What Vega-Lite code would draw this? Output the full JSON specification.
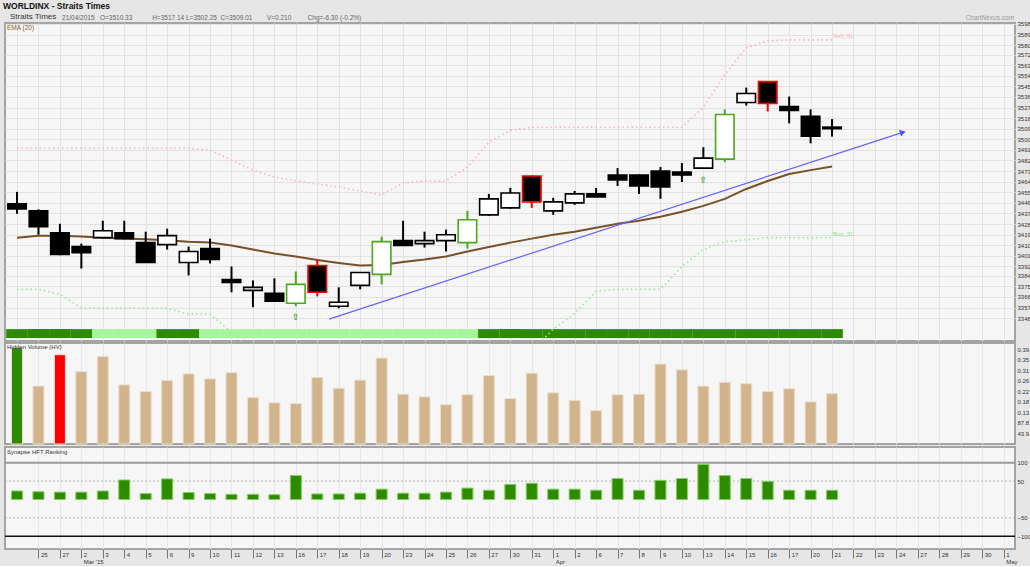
{
  "$schema": "https://vega.github.io/schema/vega-lite/v6.json",
  "background": "#e6e6e6",
  "padding": {"left": 3, "right": 0, "top": 1, "bottom": 0},
  "title": {
    "text": "WORLDINX - Straits Times",
    "anchor": "start",
    "font": "Liberation Sans",
    "fontSize": 8.5,
    "fontWeight": "bold",
    "color": "#111111",
    "offset": 2
  },
  "datasets": {
    "d": [
      {"i":0,"o":3445.1,"h":3455.3,"l":3436.7,"c":3440.9,"s":"none","t":"strong","v":402,"vs":"buy","rk":23,"em":3416.4,"rs":3492.4,"sp":3372.5},
      {"i":1,"o":3439.2,"h":3440.5,"l":3418.9,"c":3425.7,"s":"none","t":"strong","v":242,"vs":"none","rk":21,"em":3418.1,"rs":3492.4,"sp":3372.5},
      {"i":2,"o":3420.6,"h":3428.2,"l":3401.5,"c":3402.1,"s":"none","t":"strong","v":373,"vs":"sell","rk":20,"em":3418.1,"rs":3492.4,"sp":3368.3},
      {"i":3,"o":3408.8,"h":3411.3,"l":3390.2,"c":3403.7,"s":"none","t":"strong","v":302,"vs":"none","rk":20,"em":3417.3,"rs":3492.4,"sp":3356.4},
      {"i":4,"o":3416.4,"h":3430.8,"l":3416.0,"c":3422.3,"s":"none","t":"weak","v":366,"vs":"none","rk":23,"em":3416.4,"rs":3492.4,"sp":3356.4},
      {"i":5,"o":3420.6,"h":3430.8,"l":3415.0,"c":3415.6,"s":"none","t":"weak","v":247,"vs":"none","rk":53,"em":3415.6,"rs":3492.4,"sp":3356.4},
      {"i":6,"o":3412.2,"h":3421.5,"l":3395.0,"c":3395.3,"s":"none","t":"weak","v":219,"vs":"none","rk":16,"em":3415.1,"rs":3492.4,"sp":3356.4},
      {"i":7,"o":3410.5,"h":3424.0,"l":3406.3,"c":3418.1,"s":"none","t":"strong","v":265,"vs":"none","rk":56,"em":3414.3,"rs":3492.4,"sp":3356.4},
      {"i":8,"o":3395.3,"h":3408.8,"l":3384.3,"c":3404.6,"s":"none","t":"strong","v":293,"vs":"none","rk":19,"em":3413.0,"rs":3492.4,"sp":3351.4},
      {"i":9,"o":3407.1,"h":3415.6,"l":3394.5,"c":3397.8,"s":"none","t":"weak","v":272,"vs":"none","rk":16,"em":3412.2,"rs":3490.7,"sp":3351.4},
      {"i":10,"o":3380.9,"h":3391.9,"l":3370.0,"c":3378.4,"s":"none","t":"weak","v":298,"vs":"none","rk":14,"em":3409.7,"rs":3482.3,"sp":3336.0},
      {"i":11,"o":3371.6,"h":3380.1,"l":3357.3,"c":3374.2,"s":"none","t":"weak","v":194,"vs":"none","rk":14,"em":3406.3,"rs":3473.8,"sp":3320},
      {"i":12,"o":3369.1,"h":3381.8,"l":3362.0,"c":3362.4,"s":"none","t":"weak","v":172,"vs":"none","rk":13,"em":3402.9,"rs":3467.9,"sp":3320},
      {"i":13,"o":3360.7,"h":3387.7,"l":3358.1,"c":3376.7,"s":"buy","t":"weak","v":169,"vs":"none","rk":65,"em":3400.4,"rs":3464.6,"sp":3320,"a":1},
      {"i":14,"o":3392.8,"h":3397.8,"l":3366.6,"c":3370.0,"s":"sell","t":"weak","v":278,"vs":"none","rk":15,"em":3397.4,"rs":3462.0,"sp":3320},
      {"i":15,"o":3358.1,"h":3374.2,"l":3356.4,"c":3361.5,"s":"none","t":"weak","v":233,"vs":"none","rk":15,"em":3394.9,"rs":3459.5,"sp":3320},
      {"i":16,"o":3375.9,"h":3387.0,"l":3372.5,"c":3386.8,"s":"none","t":"weak","v":267,"vs":"none","rk":17,"em":3392.8,"rs":3456.1,"sp":3320},
      {"i":17,"o":3385.2,"h":3417.3,"l":3376.7,"c":3413.0,"s":"buy","t":"weak","v":359,"vs":"none","rk":28,"em":3393.2,"rs":3452.7,"sp":3320},
      {"i":18,"o":3413.9,"h":3430.8,"l":3409.5,"c":3409.7,"s":"none","t":"weak","v":208,"vs":"none","rk":17,"em":3395.7,"rs":3462.9,"sp":3320},
      {"i":19,"o":3411.3,"h":3421.5,"l":3408.0,"c":3413.9,"s":"none","t":"weak","v":197,"vs":"none","rk":17,"em":3397.8,"rs":3464.6,"sp":3320},
      {"i":20,"o":3413.9,"h":3423.2,"l":3404.6,"c":3418.9,"s":"none","t":"weak","v":164,"vs":"none","rk":20,"em":3400.4,"rs":3464.6,"sp":3320},
      {"i":21,"o":3412.2,"h":3439.2,"l":3407.1,"c":3431.6,"s":"buy","t":"weak","v":206,"vs":"none","rk":31,"em":3404.6,"rs":3476.4,"sp":3320},
      {"i":22,"o":3435.8,"h":3453.6,"l":3435.0,"c":3449.4,"s":"none","t":"strong","v":286,"vs":"none","rk":25,"em":3408.4,"rs":3497.5,"sp":3320},
      {"i":23,"o":3441.7,"h":3458.6,"l":3440.9,"c":3454.4,"s":"none","t":"strong","v":190,"vs":"none","rk":41,"em":3412.2,"rs":3507.6,"sp":3320},
      {"i":24,"o":3468.8,"h":3469.2,"l":3441.7,"c":3446.8,"s":"sell","t":"strong","v":296,"vs":"none","rk":44,"em":3415.6,"rs":3510.2,"sp":3320},
      {"i":25,"o":3439.2,"h":3450.2,"l":3435.8,"c":3446.8,"s":"none","t":"strong","v":214,"vs":"none","rk":28,"em":3418.9,"rs":3510.2,"sp":3338.7},
      {"i":26,"o":3446.0,"h":3456.1,"l":3444.3,"c":3453.6,"s":"none","t":"strong","v":182,"vs":"none","rk":28,"em":3421.5,"rs":3510.2,"sp":3352.0},
      {"i":27,"o":3453.6,"h":3458.6,"l":3451.0,"c":3451.0,"s":"none","t":"strong","v":140,"vs":"none","rk":25,"em":3424.9,"rs":3510.2,"sp":3370.8},
      {"i":28,"o":3469.6,"h":3475.5,"l":3460.3,"c":3465.4,"s":"none","t":"strong","v":206,"vs":"none","rk":57,"em":3428.2,"rs":3510.2,"sp":3372.5},
      {"i":29,"o":3469.6,"h":3470.0,"l":3453.6,"c":3460.3,"s":"none","t":"strong","v":208,"vs":"none","rk":25,"em":3430.8,"rs":3510.2,"sp":3372.5},
      {"i":30,"o":3473.0,"h":3476.4,"l":3449.4,"c":3459.5,"s":"none","t":"strong","v":334,"vs":"none","rk":52,"em":3434.1,"rs":3510.2,"sp":3372.5},
      {"i":31,"o":3472.2,"h":3479.8,"l":3463.7,"c":3469.6,"s":"none","t":"strong","v":310,"vs":"none","rk":57,"em":3438.4,"rs":3510.2,"sp":3391.9},
      {"i":32,"o":3475.5,"h":3493.3,"l":3475.0,"c":3484.0,"s":"none","t":"strong","v":242,"vs":"none","rk":95,"em":3443.4,"rs":3527.1,"sp":3406.3,"a":1},
      {"i":33,"o":3483.1,"h":3525.4,"l":3480.6,"c":3521.1,"s":"buy","t":"strong","v":258,"vs":"none","rk":65,"em":3449.4,"rs":3554.9,"sp":3413.0},
      {"i":34,"o":3531.3,"h":3543.9,"l":3528.7,"c":3538.9,"s":"none","t":"strong","v":252,"vs":"none","rk":57,"em":3457.8,"rs":3577.7,"sp":3414.7},
      {"i":35,"o":3549.0,"h":3549.3,"l":3523.7,"c":3530.4,"s":"sell","t":"strong","v":219,"vs":"none","rk":49,"em":3464.6,"rs":3583.6,"sp":3416.4},
      {"i":36,"o":3527.9,"h":3536.3,"l":3513.5,"c":3524.5,"s":"none","t":"strong","v":231,"vs":"none","rk":25,"em":3470.5,"rs":3584.5,"sp":3416.4},
      {"i":37,"o":3519.5,"h":3525.4,"l":3496.6,"c":3502.6,"s":"none","t":"strong","v":176,"vs":"none","rk":25,"em":3473.8,"rs":3584.5,"sp":3416.4},
      {"i":38,"o":3510.33,"h":3517.14,"l":3502.25,"c":3509.01,"s":"none","t":"strong","v":210,"vs":"none","rk":25,"em":3476.8,"rs":3584.5,"sp":3416.4}
    ],
    "trend": [
      {"i": 14.55, "p": 3347.2},
      {"i": 41.3, "p": 3505.9}
    ]
  },
  "spacing": 0,
  "vconcat": [
    {
      "width": 1010,
      "height": 318,
      "data": {"name": "d"},
      "encoding": {
        "x": {
          "field": "i", "type": "quantitative", "title": null,
          "scale": {"domain": [-0.56, 46.53], "nice": false, "zero": false, "padding": 0},
          "axis": {"values": [0,1,2,3,4,5,6,7,8,9,10,11,12,13,14,15,16,17,18,19,20,21,22,23,24,25,26,27,28,29,30,31,32,33,34,35,36,37,38,39,40,41,42,43,44,45,46], "tickCount": 100, "labels": false, "ticks": false, "domain": false, "grid": true, "gridColor": "#e2e2e2", "minExtent": 0, "maxExtent": 0, "offset": 0}
        }
      },
      "layer": [
        {
          "mark": {"type": "bar", "size": 21.6, "orient": "vertical"},
          "encoding": {
            "y": {"datum": 3331.1, "type": "quantitative", "title": null, "scale": {"domain": [3328.6, 3598.8], "nice": false, "zero": false, "padding": 0}},
            "y2": {"datum": 3338.7},
            "color": {"condition": {"test": "datum.t == 'strong'", "value": "#2e8b00"}, "value": "#a6f59c"}
          }
        },
        {
          "mark": {"type": "line", "clip": true, "color": "#9be89b", "strokeWidth": 1.6, "strokeDash": [1.5, 3]},
          "encoding": {"y": {"field": "sp", "type": "quantitative", "title": null}}
        },
        {
          "mark": {"type": "line", "clip": true, "color": "#ffb3bd", "strokeWidth": 1.6, "strokeDash": [1.5, 3]},
          "encoding": {"y": {"field": "rs", "type": "quantitative", "title": null}}
        },
        {
          "mark": {"type": "line", "clip": true, "color": "#7a5028", "strokeWidth": 2},
          "encoding": {"y": {"field": "em", "type": "quantitative", "title": null}}
        },
        {
          "data": {"name": "trend"},
          "mark": {"type": "line", "clip": true, "color": "#6464ff", "strokeWidth": 1.2},
          "encoding": {"y": {"field": "p", "type": "quantitative", "title": null}}
        },
        {
          "data": {"name": "trend"},
          "transform": [{"filter": "datum.i > 40"}],
          "mark": {"type": "point", "shape": "triangle-right", "filled": true, "color": "#5050ff", "size": 45, "angle": 342, "opacity": 1},
          "encoding": {"y": {"field": "p", "type": "quantitative", "title": null}}
        },
        {
          "mark": {"type": "rule", "strokeWidth": 2},
          "encoding": {
            "y": {"field": "l", "type": "quantitative", "title": null,
              "axis": {"orient": "right", "values": [3348,3357,3366,3375,3384,3392,3401,3410,3419,3428,3437,3446,3455,3464,3473,3482,3491,3500,3509,3518,3527,3536,3545,3554,3563,3572,3580,3589,3598], "tickCount": 100, "format": "d", "grid": true, "gridColor": "#e2e2e2", "labelFontSize": 6, "labelColor": "#333333", "labelPadding": 2, "labelOverlap": false, "ticks": false, "domain": false}},
            "y2": {"field": "h"},
            "color": {"condition": [{"test": "datum.s == 'buy'", "value": "#4ca81e"}, {"test": "datum.s == 'sell'", "value": "#ff0000"}], "value": "#000000"}
          }
        },
        {
          "mark": {"type": "bar", "size": 18.5, "orient": "vertical", "strokeWidth": 1.6},
          "encoding": {
            "y": {"field": "o", "type": "quantitative", "title": null},
            "y2": {"field": "c"},
            "fill": {"condition": {"test": "datum.c >= datum.o", "value": "#ffffff"}, "value": "#000000"},
            "stroke": {"condition": [{"test": "datum.s == 'buy'", "value": "#4ca81e"}, {"test": "datum.s == 'sell'", "value": "#ff0000"}], "value": "#000000"}
          }
        },
        {
          "transform": [{"filter": "datum.a == 1"}],
          "mark": {"type": "text", "text": "⇧", "font": "DejaVu Sans", "fontSize": 9, "fontWeight": "bold", "color": "#3f9a1e", "baseline": "middle", "dy": 11},
          "encoding": {"y": {"field": "l", "type": "quantitative", "title": null}}
        },
        {
          "transform": [{"filter": "datum.i == 38"}],
          "mark": {"type": "text", "text": "Sell_SL", "font": "Liberation Sans", "fontSize": 6, "color": "#ffb3bd", "align": "left", "baseline": "bottom", "dx": 1, "dy": -1},
          "encoding": {"y": {"field": "rs", "type": "quantitative", "title": null}}
        },
        {
          "transform": [{"filter": "datum.i == 38"}],
          "mark": {"type": "text", "text": "Buy_SL", "font": "Liberation Sans", "fontSize": 6, "color": "#8fe08f", "align": "left", "baseline": "bottom", "dx": 1, "dy": -1},
          "encoding": {"y": {"field": "sp", "type": "quantitative", "title": null}}
        },
        {
          "transform": [{"filter": "datum.i == 0"}],
          "mark": {"type": "text", "text": "EMA (20)", "font": "Liberation Sans", "fontSize": 6.5, "color": "#8b5a2b", "align": "left", "baseline": "top", "dx": -10, "dy": 2},
          "encoding": {"y": {"datum": 3598.8, "type": "quantitative", "title": null}}
        },
        {
          "transform": [{"filter": "datum.i == 0"}],
          "mark": {"type": "text", "text": "Straits Times", "font": "Liberation Sans", "fontSize": 8, "color": "#333333", "align": "left", "baseline": "bottom", "dx": -7, "dy": -2},
          "encoding": {"y": {"datum": 3598.8, "type": "quantitative", "title": null}}
        },
        {
          "transform": [{"filter": "datum.i == 0"}],
          "mark": {"type": "text", "text": "21/04/2015\u00a0\u00a0\u00a0O=3510.33\u00a0\u00a0\u00a0\u00a0\u00a0\u00a0\u00a0\u00a0\u00a0\u00a0\u00a0H=3517.14\u00a0L=3502.25\u00a0\u00a0C=3509.01\u00a0\u00a0\u00a0\u00a0\u00a0\u00a0\u00a0\u00a0V=0.210\u00a0\u00a0\u00a0\u00a0\u00a0\u00a0\u00a0\u00a0\u00a0Chg=-6.30 (-0.2%)", "font": "Liberation Sans", "fontSize": 6.5, "color": "#666666", "align": "left", "baseline": "bottom", "dx": 45, "dy": -2.5},
          "encoding": {"y": {"datum": 3598.8, "type": "quantitative", "title": null}}
        },
        {
          "transform": [{"filter": "datum.i == 38"}],
          "mark": {"type": "text", "text": "ChartNexus.com", "font": "Liberation Sans", "fontSize": 6.5, "color": "#9a9a9a", "align": "right", "baseline": "bottom", "dx": 182, "dy": -2.5},
          "encoding": {"y": {"datum": 3598.8, "type": "quantitative", "title": null}}
        }
      ]
    },
    {
      "width": 1010,
      "height": 101,
      "data": {"name": "d"},
      "encoding": {
        "x": {
          "field": "i", "type": "quantitative", "title": null,
          "scale": {"domain": [-0.56, 46.53], "nice": false, "zero": false, "padding": 0},
          "axis": {"values": [0,1,2,3,4,5,6,7,8,9,10,11,12,13,14,15,16,17,18,19,20,21,22,23,24,25,26,27,28,29,30,31,32,33,34,35,36,37,38,39,40,41,42,43,44,45,46], "tickCount": 100, "labels": false, "ticks": false, "domain": false, "grid": true, "gridColor": "#e6e6e6", "minExtent": 0, "maxExtent": 0, "offset": 0}
        }
      },
      "layer": [
        {
          "mark": {"type": "bar", "size": 11, "orient": "vertical", "stroke": "#eadfcd", "strokeWidth": 1},
          "encoding": {
            "y": {"field": "v", "type": "quantitative", "title": null,
              "scale": {"domain": [0, 422], "nice": false, "zero": true, "padding": 0},
              "axis": {"orient": "right", "values": [43.88, 87.76, 131.64, 175.52, 219.4, 263.28, 307.16, 351.04, 394.92], "tickCount": 100, "labelExpr": "datum.value < 100 ? format(datum.value, '.1f') : format(datum.value / 1000, '.2f')", "grid": false, "labelFontSize": 6, "labelColor": "#333333", "labelPadding": 2, "labelOverlap": false, "ticks": false, "domain": false}},
            "color": {"condition": [{"test": "datum.vs == 'buy'", "value": "#2e8b00"}, {"test": "datum.vs == 'sell'", "value": "#ff0000"}], "value": "#d2b48c"}
          }
        },
        {
          "transform": [{"filter": "datum.i == 0"}],
          "mark": {"type": "text", "text": "Hidden Volume (HV)", "font": "Liberation Sans", "fontSize": 6, "color": "#333333", "align": "left", "baseline": "top", "dx": -10, "dy": 1},
          "encoding": {"y": {"datum": 422, "type": "quantitative", "title": null}}
        }
      ]
    },
    {
      "width": 1010,
      "height": 102,
      "data": {"name": "d"},
      "encoding": {
        "x": {
          "field": "i", "type": "quantitative", "title": null,
          "scale": {"domain": [-0.56, 46.53], "nice": false, "zero": false, "padding": 0},
          "axis": {
            "values": [1,2,3,4,5,6,7,8,9,10,11,12,13,14,15,16,17,18,19,20,21,22,23,24,25,26,27,28,29,30,31,32,33,34,35,36,37,38,39,40,41,42,43,44,45,46],
            "tickCount": 100,
            "labelExpr": "[\"24\",\"25\",\"27\",[\"2\",\"Mar '15\"],\"3\",\"4\",\"5\",\"6\",\"9\",\"10\",\"11\",\"12\",\"13\",\"16\",\"17\",\"18\",\"19\",\"20\",\"23\",\"24\",\"25\",\"26\",\"27\",\"30\",\"31\",[\"1\",\"Apr\"],\"2\",\"6\",\"7\",\"8\",\"9\",\"10\",\"13\",\"14\",\"15\",\"16\",\"17\",\"20\",\"21\",\"22\",\"23\",\"24\",\"27\",\"28\",\"29\",\"30\",[\"1\",\"May\"]][datum.value]",
            "grid": true, "gridColor": "#e6e6e6", "domain": false,
            "ticks": true, "tickSize": 9, "tickColor": "#777777", "tickWidth": 1,
            "labelAlign": "left", "labelBaseline": "top", "labelPadding": -7, "labelOffset": 2,
            "labelFont": "Liberation Sans", "labelFontSize": 6, "labelColor": "#333333", "labelLineHeight": 7.5, "labelOverlap": false, "labelFlush": false, "labelBound": false
          }
        }
      },
      "layer": [
        {
          "data": {"values": [{}]},
          "mark": {"type": "rule", "color": "#9a9a9a", "strokeWidth": 2},
          "encoding": {"x": null, "y": {"datum": 100, "type": "quantitative", "title": null, "scale": {"domain": [-134.7, 142.7], "nice": false, "zero": false, "padding": 0}}}
        },
        {
          "data": {"values": [{"y": 50}, {"y": -50}]},
          "mark": {"type": "rule", "color": "#b0b0b0", "strokeWidth": 1, "strokeDash": [2, 2]},
          "encoding": {"x": null, "y": {"field": "y", "type": "quantitative", "title": null}}
        },
        {
          "data": {"values": [{}]},
          "mark": {"type": "rule", "color": "#111111", "strokeWidth": 1.5},
          "encoding": {"x": null, "y": {"datum": -100, "type": "quantitative", "title": null}}
        },
        {
          "mark": {"type": "bar", "size": 11, "orient": "vertical", "fill": "#2e8b00", "stroke": "#7fd15a", "strokeWidth": 1},
          "encoding": {
            "y": {"field": "rk", "type": "quantitative", "title": null,
              "axis": {"orient": "right", "values": [100, 50, -50, -100], "tickCount": 100, "grid": false, "labelFontSize": 6, "labelColor": "#333333", "labelPadding": 2, "labelOverlap": false, "ticks": false, "domain": false}},
            "y2": {"datum": 0}
          }
        },
        {
          "transform": [{"filter": "datum.i == 0"}],
          "mark": {"type": "text", "text": "Synapse HFT Ranking", "font": "Liberation Sans", "fontSize": 6, "color": "#333333", "align": "left", "baseline": "top", "dx": -10, "dy": 2},
          "encoding": {"y": {"datum": 142.7, "type": "quantitative", "title": null}}
        }
      ]
    }
  ],
  "config": {
    "view": {"fill": "#f6f6f6", "stroke": "#a4a4a4", "strokeWidth": 2},
    "scale": {"continuousPadding": 0},
    "axis": {"labelFont": "Liberation Sans", "domain": false, "ticks": false}
  }
}
